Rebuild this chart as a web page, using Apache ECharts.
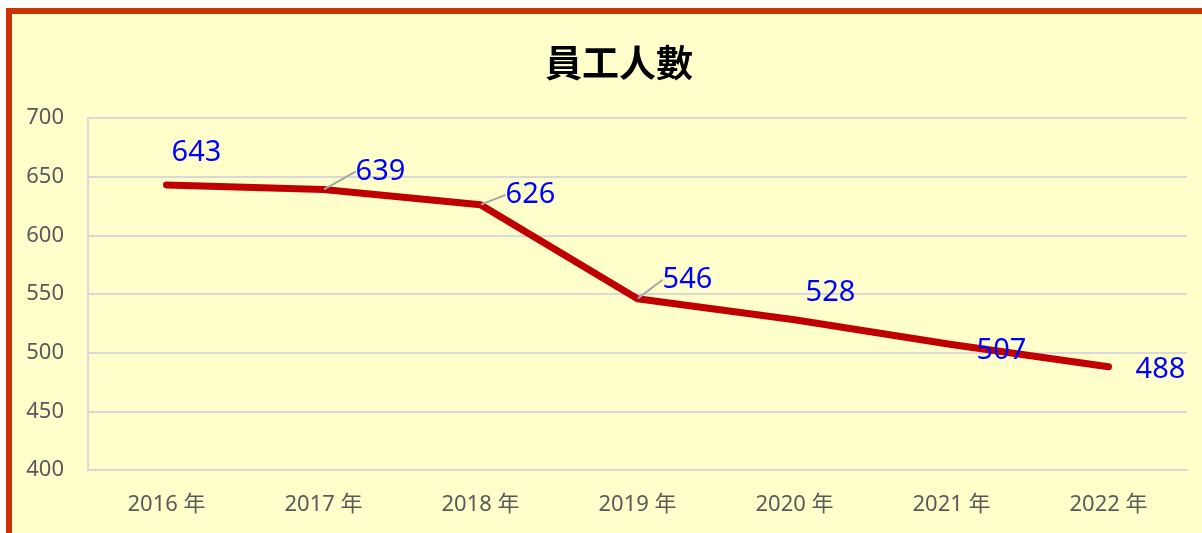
<!DOCTYPE html>
<html>
<head>
<meta charset="utf-8">
<script src="https://cdn.jsdelivr.net/npm/echarts@6/dist/echarts.min.js"></script>
<style>
  html, body { margin: 0; padding: 0; background: #fff; }
  #wrap { position: relative; width: 1202px; height: 533px; overflow: hidden; }
  #frame {
    position: absolute; left: 6px; top: 8px; width: 1300px; height: 600px;
    border-top: 6px solid #CC3300; border-left: 6px solid #CC3300;
    background: #FFFFCC;
  }
  #chart { position: absolute; left: 0; top: 0; width: 1202px; height: 533px; }
</style>
</head>
<body>
<div id="wrap">
  <div id="frame"></div>
  <div id="chart"></div>
</div>
<script>
const years = ['2016 年', '2017 年', '2018 年', '2019 年', '2020 年', '2021 年', '2022 年']
const staff = [643, 639, 626, 546, 528, 507, 488]
// label offsets from each point, and which labels get a leader line
const labelShift = [[30, -32], [57, -18], [50, -10], [50, -19], [36, -27], [50, 6], [52, 3]]
const withLeader = [false, true, true, true, false, false, false]

const latin = '"Noto Sans", "Noto Sans CJK TC", sans-serif'
const gridColor = '#D9D9D9'

const myChart = echarts.init(document.getElementById('chart'))
myChart.setOption({
  backgroundColor: 'transparent',
  title: {
    text: '員工人數',
    left: 540,
    top: 39,
    textStyle: {
      fontFamily: '"Noto Sans CJK TC", sans-serif',
      fontWeight: 'bold',
      fontSize: 37,
      color: '#000',
    },
  },
  grid: { left: 88, right: 15, top: 118, bottom: 63 },
  xAxis: {
    type: 'category',
    data: years,
    boundaryGap: true,
    axisTick: { show: false },
    axisLine: { show: true, lineStyle: { color: gridColor, width: 2 } },
    axisLabel: { color: '#595959', fontSize: 22, fontFamily: latin, margin: 24 },
  },
  yAxis: {
    type: 'value',
    min: 400,
    max: 700,
    interval: 50,
    axisTick: { show: false },
    axisLine: { show: true, lineStyle: { color: gridColor, width: 2 } },
    axisLabel: { color: '#595959', fontSize: 22, fontFamily: latin, margin: 24 },
    splitLine: { show: true, lineStyle: { color: gridColor, width: 2 } },
  },
  series: [
    {
      type: 'line',
      data: staff.map((v, i) => ({
        value: v,
        labelLine: { show: withLeader[i] },
      })),
      symbol: 'circle',
      symbolSize: 1,
      itemStyle: { color: '#C00000' },
      lineStyle: { color: '#C00000', width: 7, cap: 'round', join: 'round' },
      label: {
        show: true,
        position: 'inside',
        color: '#0000FF',
        fontSize: 29,
        fontFamily: latin,
      },
      labelLine: {
        show: false,
        smooth: false,
        lineStyle: { color: '#A6A6A6', width: 2 },
      },
      labelLayout: (params) => ({
        dx: labelShift[params.dataIndex][0],
        dy: labelShift[params.dataIndex][1],
      }),
      z: 3,
    },
  ],
})
</script>
</body>
</html>
